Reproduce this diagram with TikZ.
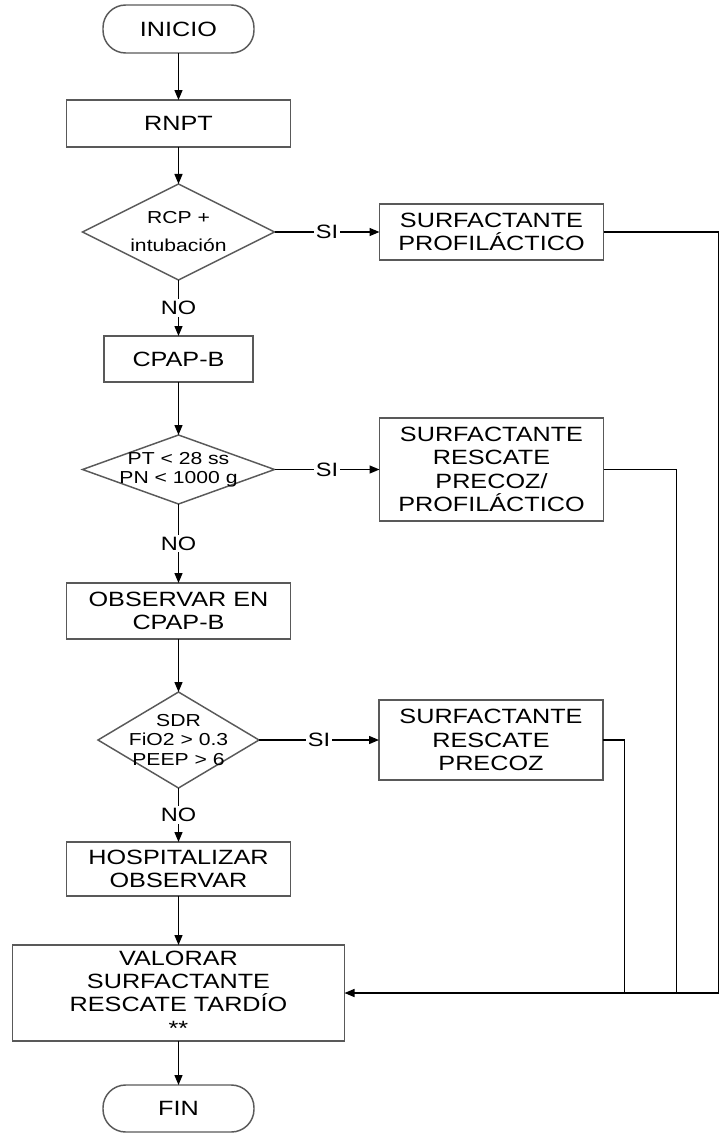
\documentclass[tikz,border=0pt]{standalone}
\usepackage{fontspec}
\setmainfont{Liberation Sans}[FakeStretch=1.22]
\usetikzlibrary{arrows.meta,positioning,calc,shapes.geometric}

\begin{document}
\begin{tikzpicture}[
    x=0.75pt, y=-0.75pt,
    base/.style={draw=black!65, line width=1.1pt, text=black, inner sep=1pt, outer sep=0pt, align=center, font=\fontsize{15.5}{17.6}\selectfont},
    term/.style={base, rectangle, rounded corners=17pt, minimum width=113.25pt},
    proc/.style={base, rectangle, minimum width=168pt},
    decide/.style={base, diamond, inner sep=0pt},
    dtext/.style={align=center, inner sep=0pt, font=\fontsize{13}{14.3}\selectfont},
    flow/.style={-{Triangle[length=7.5pt,width=6pt]}, line width=1pt},
    link/.style={line width=1pt},
    yn/.style={fill=white, inner sep=1.5pt, font=\fontsize{14.5}{16}\selectfont},
]
    \useasboundingbox (0,0) rectangle (723,1135);

    % main column
    \node[term, minimum height=36pt] (inicio) at (178.5,29) {INICIO};
    \node[proc, minimum height=35.25pt, below=35.25pt of inicio] (rnpt) {RNPT};
    \node[decide, minimum width=144pt, minimum height=72pt, below=27.75pt of rnpt,
        label={[dtext, font=\fontsize{13}{21}\selectfont]center:RCP +\\intubación}] (d1) {};
    \node[proc, minimum width=111.75pt, minimum height=34.5pt, below=42pt of d1] (cpap) {CPAP-B};
    \node[decide, minimum width=144pt, minimum height=51.75pt, below=39.75pt of cpap,
        label={[dtext]center:PT < 28 ss\\PN < 1000 g}] (d2) {};
    \node[proc, minimum height=42pt, below=59.25pt of d2] (obs) {OBSERVAR EN\\CPAP-B};
    \node[decide, minimum width=120.75pt, minimum height=72pt, below=39.75pt of obs,
        label={[dtext]center:SDR\\FiO2 > 0.3\\PEEP > 6}] (d3) {};
    \node[proc, minimum height=40.5pt, below=40.5pt of d3] (hosp) {HOSPITALIZAR\\OBSERVAR};
    \node[proc, minimum width=249pt, minimum height=72pt, below=36.75pt of hosp] (val)
        {VALORAR\\SURFACTANTE\\RESCATE TARDÍO\\**};
    \node[term, minimum height=35.25pt, below=33pt of val] (fin) {FIN};

    % surfactant boxes
    \node[proc, minimum height=42pt, right=78.75pt of d1] (prof) {SURFACTANTE\\PROFILÁCTICO};
    \node[proc, minimum height=77.25pt, right=78.75pt of d2] (rpp) {SURFACTANTE\\RESCATE\\PRECOZ/\\PROFILÁCTICO};
    \node[proc, minimum height=60pt, right=90pt of d3] (rp) {SURFACTANTE\\RESCATE\\PRECOZ};

    \coordinate (j1) at ($(val.east)+(374,0)$);
    \coordinate (j2) at ($(val.east)+(332,0)$);
    \coordinate (j3) at ($(val.east)+(280,0)$);

    \draw[flow] (inicio) -- (rnpt);
    \draw[flow] (rnpt) -- (d1);
    \draw[flow] (d1) -- node[yn] (si1) {SI} (prof);
    \draw[flow] (d1) -- node[yn] (no1) {NO} (cpap);
    \draw[flow] (cpap) -- (d2);
    \draw[flow] (d2) -- node[yn] (si2) {SI} (rpp);
    \draw[flow] (d2) -- node[yn] (no2) {NO} (obs);
    \draw[flow] (obs) -- (d3);
    \draw[flow] (d3) -- node[yn] (si3) {SI} (rp);
    \draw[flow] (d3) -- node[yn] (no3) {NO} (hosp);
    \draw[flow] (hosp) -- (val);
    \draw[flow] (val) -- (fin);

    % back to valorar
    \draw[link] (prof.east) -| (j1);
    \draw[link] (rpp.east) -| (j2);
    \draw[link] (rp.east) -| (j3);
    \draw[flow] (j1) -- (val.east);
\end{tikzpicture}
\end{document}
